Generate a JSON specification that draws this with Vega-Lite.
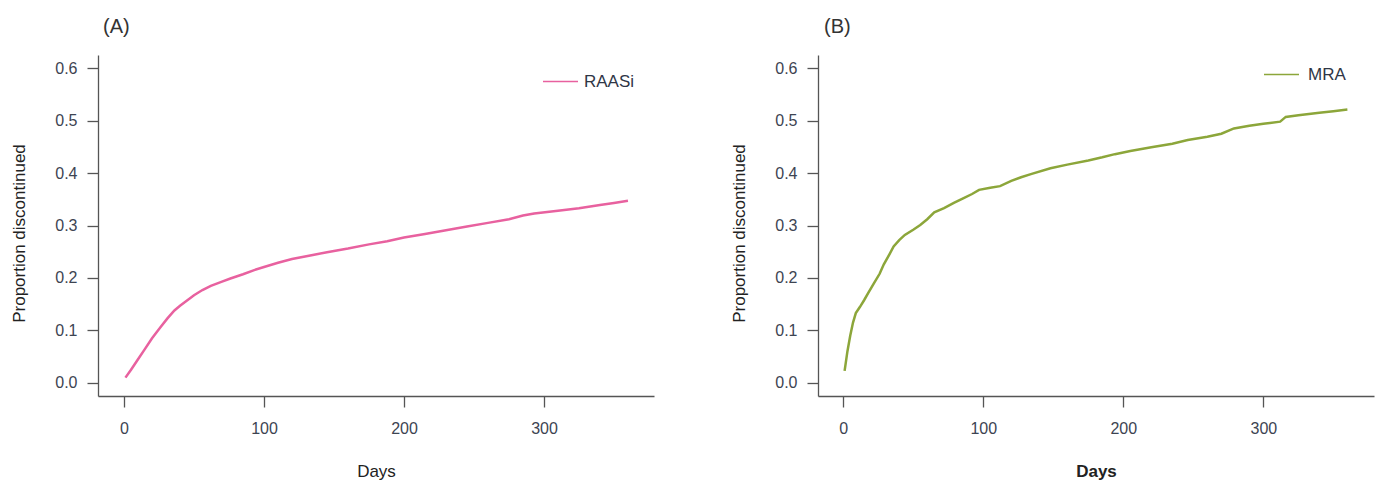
{
  "$schema": "https://vega.github.io/schema/vega-lite/v6.json",
  "autosize": {"type": "pad"},
  "padding": {"left": 10, "top": 17, "right": 4, "bottom": 4},
  "background": "white",
  "spacing": 164,
  "bounds": "flush",
  "config": {
    "view": {"stroke": null},
    "font": "Liberation Sans",
    "axis": {
      "grid": false,
      "domainColor": "#555555",
      "tickColor": "#555555",
      "domainWidth": 1.3,
      "tickWidth": 1.3,
      "tickSize": 11,
      "labelFontSize": 16,
      "labelColor": "#3d4452",
      "titleFontSize": 17,
      "titleFontWeight": "normal",
      "titleColor": "#222222",
      "labelFlush": false
    },
    "legend": {"labelColor": "#2f3646", "labelFontSize": 17, "padding": 0}
  },
  "datasets": {
    "raasi": [
      {"day": 1, "proportion": 0.010, "drug": "RAASi"},
      {"day": 5, "proportion": 0.025, "drug": "RAASi"},
      {"day": 10, "proportion": 0.045, "drug": "RAASi"},
      {"day": 14.5, "proportion": 0.063, "drug": "RAASi"},
      {"day": 20, "proportion": 0.085, "drug": "RAASi"},
      {"day": 26, "proportion": 0.106, "drug": "RAASi"},
      {"day": 31, "proportion": 0.123, "drug": "RAASi"},
      {"day": 36, "proportion": 0.138, "drug": "RAASi"},
      {"day": 40, "proportion": 0.147, "drug": "RAASi"},
      {"day": 45, "proportion": 0.157, "drug": "RAASi"},
      {"day": 50, "proportion": 0.167, "drug": "RAASi"},
      {"day": 56, "proportion": 0.177, "drug": "RAASi"},
      {"day": 62, "proportion": 0.185, "drug": "RAASi"},
      {"day": 70, "proportion": 0.193, "drug": "RAASi"},
      {"day": 76, "proportion": 0.199, "drug": "RAASi"},
      {"day": 85, "proportion": 0.207, "drug": "RAASi"},
      {"day": 93, "proportion": 0.215, "drug": "RAASi"},
      {"day": 100, "proportion": 0.221, "drug": "RAASi"},
      {"day": 110, "proportion": 0.229, "drug": "RAASi"},
      {"day": 120, "proportion": 0.236, "drug": "RAASi"},
      {"day": 133, "proportion": 0.243, "drug": "RAASi"},
      {"day": 145, "proportion": 0.249, "drug": "RAASi"},
      {"day": 160, "proportion": 0.256, "drug": "RAASi"},
      {"day": 175, "proportion": 0.264, "drug": "RAASi"},
      {"day": 188, "proportion": 0.270, "drug": "RAASi"},
      {"day": 200, "proportion": 0.277, "drug": "RAASi"},
      {"day": 215, "proportion": 0.284, "drug": "RAASi"},
      {"day": 230, "proportion": 0.291, "drug": "RAASi"},
      {"day": 245, "proportion": 0.298, "drug": "RAASi"},
      {"day": 260, "proportion": 0.305, "drug": "RAASi"},
      {"day": 275, "proportion": 0.312, "drug": "RAASi"},
      {"day": 285, "proportion": 0.319, "drug": "RAASi"},
      {"day": 293, "proportion": 0.323, "drug": "RAASi"},
      {"day": 310, "proportion": 0.328, "drug": "RAASi"},
      {"day": 325, "proportion": 0.333, "drug": "RAASi"},
      {"day": 340, "proportion": 0.339, "drug": "RAASi"},
      {"day": 350, "proportion": 0.343, "drug": "RAASi"},
      {"day": 360, "proportion": 0.347, "drug": "RAASi"}
    ],
    "mra": [
      {"day": 1, "proportion": 0.023, "drug": "MRA"},
      {"day": 3, "proportion": 0.060, "drug": "MRA"},
      {"day": 5, "proportion": 0.090, "drug": "MRA"},
      {"day": 7, "proportion": 0.115, "drug": "MRA"},
      {"day": 9, "proportion": 0.133, "drug": "MRA"},
      {"day": 12, "proportion": 0.145, "drug": "MRA"},
      {"day": 15, "proportion": 0.158, "drug": "MRA"},
      {"day": 18, "proportion": 0.172, "drug": "MRA"},
      {"day": 22, "proportion": 0.190, "drug": "MRA"},
      {"day": 26, "proportion": 0.208, "drug": "MRA"},
      {"day": 29, "proportion": 0.226, "drug": "MRA"},
      {"day": 33, "proportion": 0.245, "drug": "MRA"},
      {"day": 36, "proportion": 0.260, "drug": "MRA"},
      {"day": 40, "proportion": 0.272, "drug": "MRA"},
      {"day": 44, "proportion": 0.282, "drug": "MRA"},
      {"day": 50, "proportion": 0.292, "drug": "MRA"},
      {"day": 55, "proportion": 0.301, "drug": "MRA"},
      {"day": 60, "proportion": 0.312, "drug": "MRA"},
      {"day": 65, "proportion": 0.325, "drug": "MRA"},
      {"day": 72, "proportion": 0.333, "drug": "MRA"},
      {"day": 79, "proportion": 0.343, "drug": "MRA"},
      {"day": 86, "proportion": 0.352, "drug": "MRA"},
      {"day": 92, "proportion": 0.360, "drug": "MRA"},
      {"day": 97, "proportion": 0.368, "drug": "MRA"},
      {"day": 105, "proportion": 0.372, "drug": "MRA"},
      {"day": 112, "proportion": 0.375, "drug": "MRA"},
      {"day": 120, "proportion": 0.385, "drug": "MRA"},
      {"day": 127, "proportion": 0.392, "drug": "MRA"},
      {"day": 134, "proportion": 0.398, "drug": "MRA"},
      {"day": 148, "proportion": 0.409, "drug": "MRA"},
      {"day": 160, "proportion": 0.416, "drug": "MRA"},
      {"day": 175, "proportion": 0.424, "drug": "MRA"},
      {"day": 185, "proportion": 0.430, "drug": "MRA"},
      {"day": 194, "proportion": 0.436, "drug": "MRA"},
      {"day": 205, "proportion": 0.442, "drug": "MRA"},
      {"day": 220, "proportion": 0.449, "drug": "MRA"},
      {"day": 235, "proportion": 0.456, "drug": "MRA"},
      {"day": 246, "proportion": 0.463, "drug": "MRA"},
      {"day": 260, "proportion": 0.469, "drug": "MRA"},
      {"day": 270, "proportion": 0.475, "drug": "MRA"},
      {"day": 279, "proportion": 0.485, "drug": "MRA"},
      {"day": 290, "proportion": 0.490, "drug": "MRA"},
      {"day": 300, "proportion": 0.494, "drug": "MRA"},
      {"day": 312, "proportion": 0.498, "drug": "MRA"},
      {"day": 316, "proportion": 0.507, "drug": "MRA"},
      {"day": 325, "proportion": 0.510, "drug": "MRA"},
      {"day": 340, "proportion": 0.515, "drug": "MRA"},
      {"day": 350, "proportion": 0.518, "drug": "MRA"},
      {"day": 360, "proportion": 0.521, "drug": "MRA"}
    ]
  },
  "hconcat": [
    {
      "width": 556,
      "height": 341,
      "title": {"text": "(A)", "anchor": "start", "frame": "group", "fontSize": 20, "fontWeight": "normal", "offset": 18, "dx": 5, "color": "#333333"},
      "data": {"name": "raasi"},
      "mark": {"type": "line", "strokeWidth": 2.5},
      "encoding": {
        "x": {"field": "day", "type": "quantitative",
          "scale": {"domain": [-18.6, 378.6], "nice": false, "zero": false},
          "axis": {"values": [0, 100, 200, 300], "title": "Days", "labelPadding": 13, "titleBaseline": "middle", "titleY": 75}},
        "y": {"field": "proportion", "type": "quantitative",
          "scale": {"domain": [-0.025, 0.625], "nice": false, "zero": false},
          "axis": {"values": [0, 0.1, 0.2, 0.3, 0.4, 0.5, 0.6], "format": ".1f", "title": "Proportion discontinued", "labelPadding": 10, "titleX": -79, "titleY": 178, "titleBaseline": "middle", "titleAlign": "center"}},
        "color": {"field": "drug", "type": "nominal",
          "scale": {"domain": ["RAASi"], "range": ["#e8619f"]},
          "legend": {"orient": "none", "legendX": 444, "legendY": 8, "title": null, "symbolType": "stroke", "symbolSize": 1225, "symbolStrokeWidth": 1.5, "labelOffset": 5}}
      }
    },
    {
      "width": 556,
      "height": 341,
      "title": {"text": "(B)", "anchor": "start", "frame": "group", "fontSize": 20, "fontWeight": "normal", "offset": 18, "dx": 6, "color": "#333333"},
      "data": {"name": "mra"},
      "mark": {"type": "line", "strokeWidth": 2.5},
      "encoding": {
        "x": {"field": "day", "type": "quantitative",
          "scale": {"domain": [-18, 379], "nice": false, "zero": false},
          "axis": {"values": [0, 100, 200, 300], "title": "Days", "titleFontWeight": "bold", "labelPadding": 13, "titleBaseline": "middle", "titleY": 75}},
        "y": {"field": "proportion", "type": "quantitative",
          "scale": {"domain": [-0.025, 0.625], "nice": false, "zero": false},
          "axis": {"values": [0, 0.1, 0.2, 0.3, 0.4, 0.5, 0.6], "format": ".1f", "title": "Proportion discontinued", "labelPadding": 10, "titleX": -79, "titleY": 178, "titleBaseline": "middle", "titleAlign": "center"}},
        "color": {"field": "drug", "type": "nominal",
          "scale": {"domain": ["MRA"], "range": ["#8ca63a"]},
          "legend": {"orient": "none", "legendX": 445, "legendY": 1, "title": null, "symbolType": "stroke", "symbolSize": 1225, "symbolStrokeWidth": 1.5, "labelOffset": 8}}
      }
    }
  ],
  "resolve": {"scale": {"color": "independent"}, "legend": {"color": "independent"}}
}
